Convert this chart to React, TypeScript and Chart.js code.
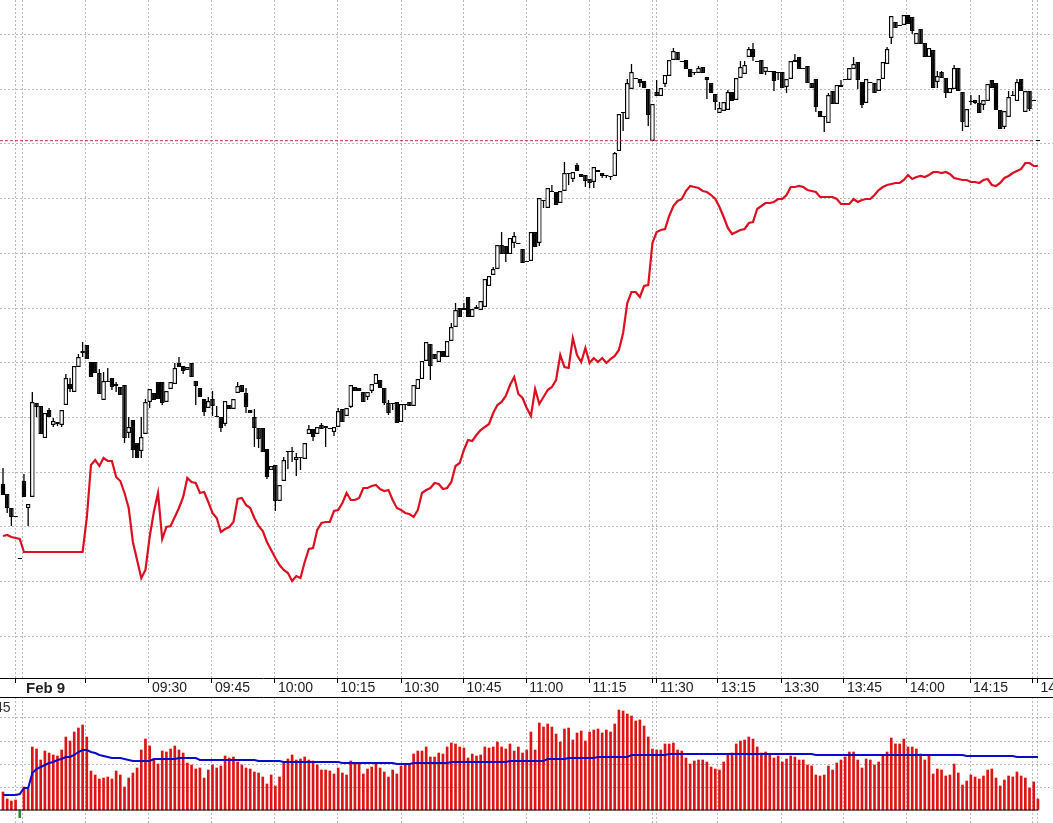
import React, { useEffect, useRef } from 'react';
import { Chart, registerables } from 'chart.js';

Chart.register(...registerables);

const openPrice = [
  194, 184, 170, 162, 120, 197, 170, 181, 275, 272,
  240, 268, 253, 256, 253, 273, 294, 286, 311, 325,
  333, 316, 316, 305, 278, 297, 300, 292, 291, 293,
  245, 258, 235, 227, 244, 276, 285, 296, 296, 276,
  289, 294, 315, 312, 308, 315, 297, 290, 279, 270,
  279, 262, 261, 254, 273, 269, 285, 293, 285, 268,
  261, 250, 250, 229, 208, 213, 177, 197, 226, 227,
  218, 221, 219, 244, 249, 244, 253, 250, 250, 246,
  251, 269, 262, 271, 291, 290, 286, 281, 287, 294,
  298, 290, 275, 275, 276, 256, 274, 276, 272, 289,
  299, 317, 334, 324, 316, 327, 321, 337, 351, 370,
  368, 381, 361, 369, 368, 371, 392, 403, 409, 433,
  432, 424, 435, 435, 429, 417, 417, 446, 435, 478,
  470, 487, 486, 475, 487, 505, 499, 513, 504, 503,
  499, 496, 506, 505, 503, 502, 502, 527, 566, 559,
  589, 600, 599, 597, 589, 537, 586, 582, 594, 602,
  618, 626, 617, 618, 609, 606, 605, 611, 601, 595,
  584, 565, 567, 568, 586, 578, 600, 604, 621, 629,
  617, 618, 606, 607, 607, 606, 606, 591, 599, 616,
  621, 610, 612, 595, 599, 567, 562, 555, 587, 574,
  591, 599, 598, 609, 616, 596, 575, 596, 595, 587,
  599, 614, 640, 656, 653, 653, 663, 661, 634, 649,
  635, 621, 628, 596, 606, 600, 585, 589, 610, 586,
  551, 577, 578, 575, 573, 577, 598, 595, 568, 551,
  561, 583, 577, 599, 566, 587, 578, 538,
];
const closePrice = [
  183, 170, 161, 161, 119, 181, 174, 276, 271, 244,
  265, 261, 257, 254, 268, 300, 289, 312, 321, 327,
  319, 301, 305, 284, 297, 296, 291, 294, 283, 240,
  251, 228, 220, 241, 276, 289, 278, 279, 275, 287,
  296, 310, 311, 307, 311, 301, 292, 281, 266, 277,
  272, 261, 250, 277, 269, 279, 292, 286, 271, 265,
  250, 239, 226, 201, 212, 177, 193, 218, 227, 226,
  221, 220, 235, 249, 241, 251, 249, 252, 249, 251,
  267, 256, 270, 293, 287, 287, 276, 286, 294, 304,
  290, 275, 265, 274, 255, 274, 273, 272, 293, 299,
  317, 336, 312, 319, 327, 321, 337, 351, 368, 361,
  370, 361, 369, 371, 377, 399, 402, 409, 433, 424,
  424, 440, 442, 434, 415, 416, 446, 431, 480, 477,
  490, 486, 473, 487, 505, 504, 506, 507, 501, 497,
  495, 511, 508, 502, 502, 501, 525, 564, 565, 595,
  606, 599, 595, 590, 563, 574, 582, 590, 603, 618,
  627, 618, 616, 609, 601, 605, 610, 605, 598, 585,
  576, 570, 576, 586, 577, 600, 611, 613, 629, 621,
  616, 604, 611, 606, 597, 605, 590, 599, 617, 618,
  609, 609, 595, 590, 571, 561, 561, 583, 574, 593,
  593, 598, 610, 614, 598, 573, 599, 595, 585, 599,
  616, 629, 662, 650, 652, 663, 654, 647, 645, 634,
  621, 630, 590, 602, 600, 585, 590, 610, 587, 556,
  569, 576, 575, 565, 578, 594, 590, 568, 549, 567,
  581, 582, 596, 587, 587, 569, 577, 537,
];
const highPrice = [
  210, 184, 170, 162, 120, 204, 174, 286, 275, 272,
  265, 270, 260, 256, 268, 304, 300, 312, 324, 336,
  333, 316, 316, 309, 306, 310, 300, 296, 291, 293,
  261, 258, 235, 261, 279, 289, 285, 296, 296, 287,
  296, 315, 321, 312, 311, 315, 297, 290, 279, 281,
  287, 272, 261, 277, 273, 279, 296, 293, 290, 268,
  269, 250, 250, 229, 212, 213, 193, 221, 227, 231,
  225, 221, 235, 253, 249, 251, 255, 252, 250, 251,
  270, 269, 270, 293, 291, 290, 286, 286, 294, 304,
  298, 290, 278, 275, 276, 274, 274, 276, 293, 299,
  317, 336, 334, 324, 327, 327, 337, 355, 375, 370,
  375, 381, 369, 373, 377, 399, 402, 411, 433, 446,
  432, 440, 446, 435, 429, 417, 446, 446, 480, 478,
  490, 493, 486, 487, 516, 505, 506, 515, 504, 503,
  499, 511, 508, 505, 503, 502, 526, 564, 566, 599,
  614, 600, 599, 597, 589, 574, 598, 590, 603, 618,
  630, 626, 617, 618, 609, 606, 612, 611, 601, 595,
  584, 576, 576, 588, 586, 600, 617, 617, 631, 635,
  617, 618, 611, 607, 607, 606, 606, 599, 617, 624,
  621, 610, 612, 595, 599, 567, 562, 585, 587, 593,
  598, 599, 610, 621, 616, 596, 599, 596, 595, 599,
  616, 631, 662, 656, 653, 663, 663, 661, 645, 649,
  635, 630, 628, 607, 607, 600, 590, 613, 610, 586,
  569, 583, 578, 583, 578, 594, 598, 595, 568, 567,
  587, 587, 599, 599, 587, 587, 578, 538,
];
const lowPrice = [
  183, 165, 152, 161, 119, 181, 152, 181, 261, 244,
  240, 261, 251, 252, 251, 273, 286, 286, 311, 321,
  319, 301, 305, 284, 278, 296, 288, 286, 283, 235,
  240, 220, 220, 220, 244, 270, 278, 279, 273, 276,
  289, 294, 311, 304, 308, 301, 273, 281, 262, 270,
  262, 261, 246, 252, 269, 269, 285, 286, 265, 265,
  231, 230, 226, 199, 208, 167, 177, 197, 209, 216,
  202, 208, 219, 244, 237, 244, 249, 231, 249, 242,
  251, 256, 262, 270, 287, 287, 276, 278, 285, 294,
  290, 273, 263, 268, 255, 256, 268, 272, 272, 289,
  299, 317, 298, 319, 316, 321, 321, 337, 351, 361,
  368, 361, 361, 369, 368, 371, 392, 403, 409, 424,
  416, 424, 430, 434, 415, 416, 417, 431, 432, 470,
  470, 486, 473, 475, 487, 493, 496, 507, 501, 491,
  490, 490, 506, 500, 500, 498, 502, 527, 547, 559,
  589, 599, 591, 590, 552, 537, 582, 582, 591, 602,
  618, 618, 616, 609, 601, 603, 605, 605, 579, 585,
  568, 565, 567, 568, 577, 578, 600, 604, 621, 617,
  616, 604, 603, 606, 587, 598, 590, 585, 599, 616,
  609, 609, 595, 590, 566, 561, 546, 555, 574, 574,
  591, 598, 598, 609, 589, 570, 575, 595, 585, 587,
  599, 614, 634, 650, 652, 653, 654, 644, 634, 634,
  621, 621, 590, 590, 600, 580, 585, 589, 587, 547,
  551, 573, 574, 565, 568, 577, 590, 568, 549, 549,
  561, 582, 577, 587, 566, 567, 577, 537,
];
const redLine = [
  142, 143, 141, 140, 139, 126, 126, 126, 126, 126,
  126, 126, 126, 126, 126, 126, 126, 126, 126, 126,
  160, 213, 218, 212, 220, 217, 217, 201, 197, 185,
  170, 136, 118, 100, 108, 141, 166, 185, 139, 151,
  152, 161, 170, 181, 200, 196, 195, 185, 186, 176,
  165, 160, 146, 149, 151, 156, 179, 180, 173, 170,
  160, 152, 147, 136, 128, 120, 113, 108, 105, 97,
  102, 100, 116, 129, 130, 148, 155, 156, 156, 167,
  168, 175, 185, 178, 178, 180, 190, 190, 192, 193,
  189, 187, 188, 178, 170, 168, 165, 164, 161, 168,
  185, 188, 190, 195, 194, 189, 190, 196, 212, 215,
  228, 238, 237, 243, 248, 251, 254, 265, 273, 276,
  282, 293, 301, 284, 280, 270, 262, 289, 274, 281,
  288, 291, 298, 323, 311, 310, 340, 323, 316, 330,
  315, 320, 316, 320, 315, 319, 322, 328, 345, 375,
  386, 386, 381, 392, 393, 435, 446, 448, 449, 462,
  472, 477, 479, 487, 492, 491, 490, 487, 486, 483,
  479, 471, 461, 450, 444, 446, 448, 449, 455, 456,
  469, 472, 475, 475, 476, 479, 479, 483, 491, 491,
  492, 491, 488, 487, 486, 481, 481, 481, 481, 479,
  474, 474, 474, 479, 476, 478, 479, 479, 483, 488,
  491, 493, 494, 495, 495, 498, 503, 499, 501, 502,
  501, 503, 506, 506, 505, 506, 504, 500, 499, 498,
  498, 496, 496, 495, 498, 499, 493, 492, 495, 500,
  502, 505, 507, 509, 515, 515, 512, 512,
];
const lastPrice = 537.3;
const priceGrid = [41.8, 96.5, 151.2, 205.9, 260.6, 315.3, 370, 424.7, 479.4, 534.1, 588.8, 643.5];

const volume = [
  18, 11, 9, 10, 0, 23, 21, 63, 61, 50,
  59, 57, 55, 54, 60, 73, 69, 78, 82, 85,
  73, 39, 35, 31, 32, 33, 31, 39, 35, 23,
  32, 37, 42, 60, 71, 64, 51, 46, 59, 58,
  61, 64, 60, 57, 47, 45, 41, 42, 32, 40,
  45, 42, 44, 54, 52, 53, 48, 45, 42, 41,
  38, 37, 33, 26, 35, 24, 33, 48, 51, 55,
  50, 51, 53, 50, 49, 45, 40, 40, 39, 36,
  42, 37, 35, 49, 46, 46, 36, 41, 43, 46,
  42, 38, 33, 40, 36, 44, 46, 46, 56, 59,
  59, 63, 53, 53, 57, 56, 63, 67, 66, 63,
  62, 52, 56, 54, 55, 63, 62, 63, 68, 63,
  61, 66, 59, 63, 57, 60, 78, 60, 87, 83,
  86, 83, 76, 68, 81, 82, 70, 77, 79, 69,
  78, 80, 81, 77, 80, 78, 86, 100, 99, 96,
  94, 89, 90, 84, 73, 61, 60, 60, 66, 66,
  67, 60, 59, 52, 46, 49, 50, 50, 48, 43,
  41, 40, 48, 55, 57, 66, 69, 70, 73, 71,
  63, 57, 58, 55, 52, 54, 48, 51, 54, 53,
  50, 50, 45, 44, 35, 34, 35, 44, 40, 47,
  50, 53, 58, 58, 50, 42, 51, 50, 45, 48,
  54, 58, 72, 66, 66, 71, 63, 63, 61, 56,
  50, 54, 36, 41, 40, 34, 35, 46, 37, 25,
  29, 35, 33, 31, 34, 40, 41, 32, 24, 30,
  34, 33, 38, 34, 32, 22, 28, 11,
];
const volumeAvg = [
  15, 15, 15, 15, 16, 22, 22, 37, 41, 43,
  45, 47, 48, 50, 51, 53, 53, 55, 58, 60,
  60, 58, 57, 55, 54, 53, 52, 52, 52, 51,
  50, 49, 49, 49, 49, 49, 51, 51, 51, 51,
  51, 51, 52, 52, 52, 52, 52, 50, 50, 50,
  50, 50, 50, 50, 50, 50, 50, 50, 50, 50,
  50, 49, 49, 49, 49, 49, 49, 48, 48, 48,
  48, 48, 48, 48, 48, 48, 48, 48, 48, 48,
  48, 47, 47, 47, 47, 47, 47, 47, 47, 47,
  47, 47, 47, 47, 46, 46, 46, 46, 47, 47,
  47, 47, 47, 47, 47, 47, 47, 48, 48, 48,
  48, 48, 48, 48, 48, 48, 48, 48, 48, 48,
  48, 49, 49, 49, 49, 49, 49, 49, 49, 49,
  51, 51, 51, 51, 51, 52, 52, 52, 52, 52,
  52, 52, 53, 53, 53, 53, 53, 53, 53, 53,
  55, 55, 55, 55, 55, 55, 55, 55, 55, 56,
  56, 56, 56, 56, 56, 56, 56, 56, 56, 56,
  56, 56, 56, 56, 56, 56, 56, 56, 56, 56,
  56, 56, 56, 56, 56, 56, 56, 56, 56, 56,
  56, 56, 56, 56, 55, 55, 55, 55, 55, 55,
  55, 55, 55, 55, 55, 55, 55, 55, 55, 55,
  55, 55, 55, 55, 55, 55, 55, 55, 55, 55,
  55, 55, 55, 55, 55, 55, 55, 55, 55, 55,
  54, 54, 54, 54, 54, 54, 54, 54, 54, 54,
  54, 54, 53, 53, 53, 53, 53, 53,
];
const volumeGrid = [23, 46, 69, 92, 113];
const volumeLabel = '45';

// the axis is by bar number, the time labels sit on these bars
const timeTicks = [3.1, 4.77, 19.8, 34.84, 49.88, 64.9, 79.8, 95, 109.9, 124.9, 140, 154.9, 156, 170.6, 185.7, 200.7, 215.7, 230.8, 245.8, 246.9];
const timeLabels = ['', 'Feb 9', '', '09:30', '09:45', '10:00', '10:15', '10:30', '10:45', '11:00', '11:15', '', '11:30', '13:15', '13:30', '13:45', '14:00', '14:15', '', '14:30'];

const X_MIN = -0.716;
const X_MAX = 250.6;
const GRID_COLOR = '#bababa';

const toPoints = (values: number[]) => values.map((y, x) => ({ x, y }));

const App: React.FC = () => {
  const priceRef = useRef<HTMLCanvasElement>(null);
  const volumeRef = useRef<HTMLCanvasElement>(null);

  useEffect(() => {
    document.body.style.margin = '0';
    document.body.style.overflow = 'hidden';

    const wicks = highPrice.map((h, x) => ({ x, y: [lowPrice[x], h] }));
    const bodies = openPrice.map((o, x) => ({ x, y: o === closePrice[x] ? [o, o + 1] : [o, closePrice[x]] }));
    const bodyColors = openPrice.map((o, i) => (closePrice[i] > o ? '#ffffff' : '#000000'));

    const priceChart = new Chart(priceRef.current as HTMLCanvasElement, {
      type: 'bar',
      data: {
        datasets: [
          {
            type: 'line',
            data: toPoints(redLine),
            borderColor: '#dc1020',
            borderWidth: 2.2,
            pointRadius: 0,
            tension: 0,
            order: 1,
          },
          {
            type: 'line',
            data: [{ x: X_MIN, y: lastPrice }, { x: 245.8, y: lastPrice }],
            borderColor: '#c4304c',
            borderWidth: 1,
            borderDash: [3, 2],
            pointRadius: 0,
            order: 2,
          },
          {
            data: bodies,
            backgroundColor: bodyColors,
            borderColor: '#000000',
            borderWidth: 1.3,
            borderSkipped: false,
            inflateAmount: 0,
            barThickness: 4.6,
            grouped: false,
            order: 3,
          },
          {
            data: wicks,
            backgroundColor: '#000000',
            borderWidth: 0,
            inflateAmount: 0,
            barThickness: 1.3,
            grouped: false,
            order: 4,
          },
        ],
      } as any,
      options: {
        responsive: false,
        animation: false,
        events: [],
        layout: { padding: 0 },
        plugins: { legend: { display: false }, tooltip: { enabled: false } },
        scales: {
          x: {
            type: 'linear',
            offset: false,
            min: X_MIN,
            max: X_MAX,
            afterBuildTicks: (scale: any) => {
              scale.ticks = timeTicks.map((value) => ({ value }));
            },
            afterFit: (scale: any) => {
              scale.height = 19;
              scale.paddingLeft = 0;
              scale.paddingRight = 0;
            },
            border: { display: true, color: '#000000', width: 1, dash: [2, 2] },
            grid: {
              offset: false,
              color: GRID_COLOR,
              tickColor: (ctx: any) => (ctx.index === 1 ? 'rgba(0,0,0,0)' : '#000000'),
              tickLength: 5,
            },
            ticks: {
              autoSkip: false,
              maxRotation: 0,
              align: 'start',
              labelOffset: 3,
              padding: -3,
              color: '#222222',
              font: (ctx: any) => ({
                family: '"Liberation Sans", Arial, sans-serif',
                size: ctx.index === 1 ? 15 : 14,
                weight: ctx.index === 1 ? 'bold' : 'normal',
              }),
              callback: (value: any) => timeLabels[timeTicks.indexOf(value)],
            },
          },
          y: {
            type: 'linear',
            min: 0,
            max: 678,
            afterBuildTicks: (scale: any) => {
              scale.ticks = priceGrid.map((value) => ({ value }));
            },
            afterFit: (scale: any) => {
              scale.width = 0;
            },
            border: { display: false, dash: [2, 2] },
            grid: { color: GRID_COLOR, drawTicks: false },
            ticks: { display: false },
          },
        },
      } as any,
    });

    const volumeText = {
      id: 'volumeText',
      afterDraw: (chart: any) => {
        const { ctx } = chart;
        ctx.save();
        ctx.fillStyle = '#333333';
        ctx.font = '14px "Liberation Sans", Arial, sans-serif';
        ctx.textAlign = 'right';
        ctx.textBaseline = 'middle';
        ctx.fillText(volumeLabel, 10.5, 11);
        ctx.restore();
      },
    };

    const volumeChart = new Chart(volumeRef.current as HTMLCanvasElement, {
      type: 'bar',
      data: {
        datasets: [
          {
            type: 'line',
            data: toPoints(volumeAvg),
            borderColor: '#0a0ac8',
            borderWidth: 2,
            pointRadius: 0,
            tension: 0,
            order: 1,
          },
          {
            type: 'line',
            data: [{ x: X_MIN, y: 0 }, { x: 247, y: 0 }],
            borderColor: '#000000',
            borderWidth: 1,
            pointRadius: 0,
            order: 2,
          },
          {
            data: toPoints(volume),
            backgroundColor: '#dd1414',
            barThickness: 2,
            grouped: false,
            order: 3,
          },
          {
            data: [{ x: 4, y: [-7.7, -0.7] }],
            backgroundColor: '#2a8a3a',
            barThickness: 2,
            grouped: false,
            order: 3,
          },
        ],
      } as any,
      plugins: [volumeText],
      options: {
        responsive: false,
        animation: false,
        events: [],
        layout: { padding: 0 },
        plugins: { legend: { display: false }, tooltip: { enabled: false } },
        scales: {
          x: {
            type: 'linear',
            offset: false,
            min: X_MIN,
            max: X_MAX,
            afterBuildTicks: (scale: any) => {
              scale.ticks = timeTicks.map((value) => ({ value }));
            },
            afterFit: (scale: any) => {
              scale.height = 0;
              scale.paddingLeft = 0;
              scale.paddingRight = 0;
            },
            border: { display: false, dash: [2, 2] },
            grid: { offset: false, color: GRID_COLOR, drawTicks: false },
            ticks: { display: false, autoSkip: false },
          },
          y: {
            type: 'linear',
            min: -13,
            max: 113,
            afterBuildTicks: (scale: any) => {
              scale.ticks = volumeGrid.map((value) => ({ value }));
            },
            afterFit: (scale: any) => {
              scale.width = 0;
            },
            border: {
              display: false,
              dash: (ctx: any) => (ctx.tick && ctx.tick.value === 113 ? [] : [2, 2]),
            },
            grid: {
              color: (ctx: any) => (ctx.tick && ctx.tick.value === 113 ? '#000000' : GRID_COLOR),
              drawTicks: false,
            },
            ticks: { display: false },
          },
        },
      } as any,
    });

    return () => {
      priceChart.destroy();
      volumeChart.destroy();
    };
  }, []);

  return (
    <div style={{ width: 1053, height: 823, background: '#ffffff' }}>
      <canvas ref={priceRef} width={1053} height={697} style={{ display: 'block' }} />
      <canvas ref={volumeRef} width={1053} height={126} style={{ display: 'block' }} />
    </div>
  );
};

export default App;
